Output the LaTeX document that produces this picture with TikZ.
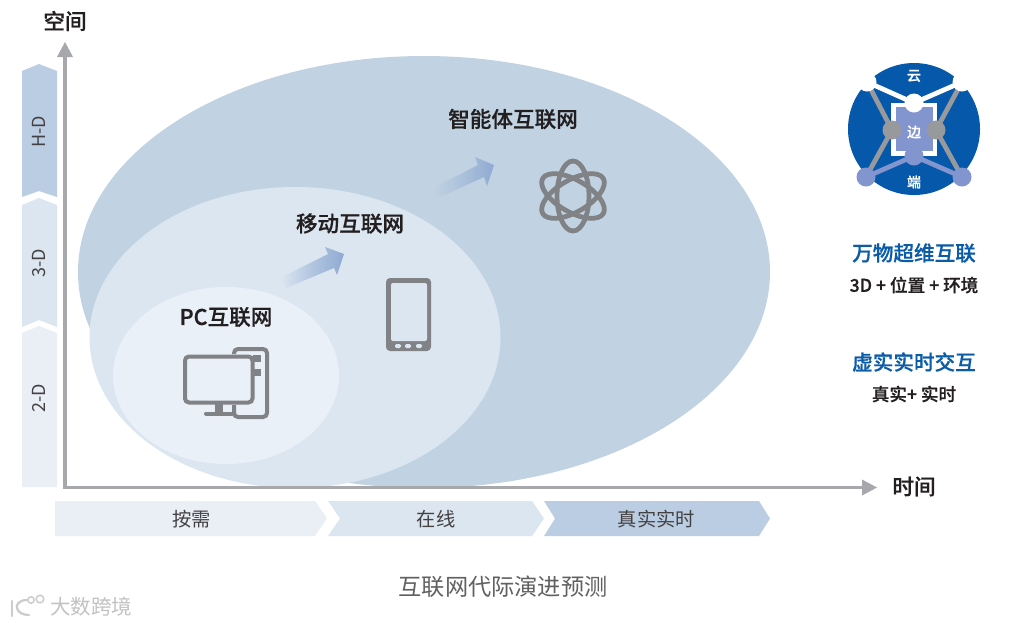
\documentclass[tikz,border=0pt]{standalone}
\usepackage{fontspec}
\setmainfont{Noto Sans CJK SC}
\newfontfamily\medf[FakeBold=0.6]{Noto Sans CJK SC Medium}
\definecolor{bigE}{HTML}{C1D3E2}
\definecolor{midE}{HTML}{DCE6F1}
\definecolor{smallE}{HTML}{E9F0F7}
\definecolor{hd}{HTML}{BBCDE2}
\definecolor{td}{HTML}{DCE6F1}
\definecolor{twod}{HTML}{E9EFF5}
\definecolor{axisc}{HTML}{A6A8AB}
\definecolor{icong}{HTML}{808285}
\definecolor{ink}{HTML}{231F20}
\definecolor{blueT}{HTML}{0A5BA8}
\definecolor{disc}{HTML}{0558AA}
\definecolor{peri}{HTML}{8295CE}
\definecolor{arrowB}{HTML}{8FAAD2}
\definecolor{discg}{HTML}{97999C}
\newcommand{\fpx}[1]{\pgfmathsetmacro{\fsz}{#1*0.75}\fontsize{\fsz pt}{\fsz pt}\selectfont}
\tikzset{
  x=0.75pt,y=-0.75pt,
  title/.style={font=\fpx{21.6}\medf,text=ink,inner sep=0pt},
  band/.style={font=\fpx{19.3},text=ink!85,inner sep=0pt},
  sidelabel/.style={font=\fpx{18},text=ink!85,inner sep=0pt,rotate=90},
  bluehead/.style={font=\fpx{20.6}\medf,text=blueT,inner sep=0pt},
  blackhead/.style={font=\fpx{17.6}\medf,text=ink,inner sep=0pt},
  disctext/.style={font=\fpx{14}\medf,text=white,inner sep=0pt},
  icon/.style={draw=icong,line width=3pt,rounded corners=3pt},
  axisline/.style={draw=axisc,line width=2.3pt},
  axistip/.style={fill=axisc,draw=none},
  bracket/.style={white,line width=3.5pt},
  wlink/.style={white,line width=3.6pt},
  glink/.style={discg,line width=3.6pt},
  plink/.style={peri,line width=3.6pt},
}
\begin{document}
\begin{tikzpicture}
\useasboundingbox (0,0) rectangle (1016,626);
\fill[white] (0,0) rectangle (1016,626);
% ellipses
\fill[bigE] (424,272) ellipse [x radius=346,y radius=216];
\fill[midE] (295,337.5) ellipse [x radius=205.5,y radius=150.5];
\fill[smallE] (226,375.5) ellipse [x radius=113,y radius=88.5];
% side bands
\fill[hd] (22,71) -- (39,64) -- (57,71) -- (57,197) -- (39,191) -- (22,197) -- cycle;
\fill[td] (22,205) -- (39,198) -- (57,205) -- (57,327) -- (39,320) -- (22,327) -- cycle;
\fill[twod] (22,333) -- (39,326) -- (57,333) -- (57,487) -- (22,487) -- cycle;
\node[sidelabel] (lh) at (39,132) {H-D};
\node[sidelabel] (l3) at (39,263) {3-D};
\node[sidelabel] (l2) at (39,398) {2-D};
% axes
\coordinate (o) at (65,487.5);
\coordinate (ytop) at (65,56);
\coordinate (xend) at (863,487.5);
\draw[axisline] (ytop) -- (o) -- (xend);
\fill[axistip] (65,42) -- (73,57) -- (57,57) -- cycle;
\fill[axistip] (877,487.5) -- (862,479.5) -- (862,495.5) -- cycle;
\node[title] (yl) at (65,21) {空间};
\node[title] (xl) at (914,486.5) {时间};
% time bands
\fill[twod] (55,501) -- (315,501) -- (327,518.5) -- (315,536) -- (55,536) -- cycle;
\fill[td] (328,501) -- (532,501) -- (544,518.5) -- (532,536) -- (328,536) -- (340,518.5) -- cycle;
\fill[hd] (544,501) -- (759,501) -- (770,518.5) -- (759,536) -- (544,536) -- (555,518.5) -- cycle;
\node[band] (b1) at (191.5,519.5) {按需};
\node[band] (b2) at (436,519.5) {在线};
\node[band] (b3) at (656.5,519.5) {真实实时};
% titles
\node[title] (t1) at (226,317) {PC互联网};
\node[title] (t2) at (350,223.5) {移动互联网};
\node[title] (t3) at (513,119) {智能体互联网};
% gradient arrows
\shade[left color=midE,right color=arrowB,middle color=midE!45!arrowB,shading angle=90]
  (280,278) -- (328,254) -- (325,247) -- (344,254) -- (337,275) -- (334,268) -- (286,288) -- cycle;
\shade[left color=bigE,right color=arrowB,middle color=bigE!55!arrowB,shading angle=90]
  (433,188) -- (478,165) -- (475,157) -- (494,165) -- (487,186) -- (484,177) -- (438,198) -- cycle;
% PC icon
\draw[icon] (185,356.5) rectangle (252.5,402.5);
\fill[icong] (215,403) rectangle (223,414);
\draw[icong,line width=3pt,line cap=round] (206,413.5) -- (232,413.5);
\draw[icon] (234,354) -- (234,349) -- (267,349) -- (267,417) -- (234,417) -- (234,405);
\fill[icong] (253,355) rectangle (261,361.5);
\fill[icong] (253,369) rectangle (261,376);
% phone icon
\fill[icong,rounded corners=3pt] (386,278) rectangle (431,351);
\fill[midE,rounded corners=1.5pt] (391,283) rectangle (427,341);
\foreach \dx in {398,408,419}{\fill[midE,rounded corners=1pt] (\dx-3,344) rectangle (\dx+3,348);}
% atom icon
\foreach \ang in {90,30,-30}{\draw[icong,line width=3.6pt,rotate around={\ang:(573,196)}] (573,196) ellipse [x radius=35,y radius=16];}
% disc icon
\fill[disc] (914,129) circle [radius=66];
\draw[bracket] (906,105) -- (893.5,105) -- (893.5,153.5) -- (906,153.5);
\draw[bracket] (922,105) -- (934.5,105) -- (934.5,153.5) -- (922,153.5);
\fill[peri] (896,107) rectangle (933,151);
\coordinate (w1) at (867,82);
\coordinate (w2) at (962,82);
\coordinate (w3) at (914,103);
\coordinate (g1) at (892,130);
\coordinate (g2) at (936,130);
\coordinate (p1) at (866,177);
\coordinate (p2) at (962,177);
\coordinate (p3) at (914,156);
\draw[wlink] (w1) -- (w3) -- (w2);
\draw[glink] (w1) -- (g1) -- (p1) (w2) -- (g2) -- (p2);
\draw[plink] (p1) -- (p3) -- (p2);
\foreach \c in {w1,w2,w3}{\fill[white] (\c) circle [radius=9.5];}
\foreach \c in {g1,g2}{\fill[discg] (\c) circle [radius=9.5];}
\foreach \c in {p1,p2,p3}{\fill[peri] (\c) circle [radius=9.5];}
\node[disctext] (c1) at (914,76) {云};
\node[disctext] (c2) at (914,132) {边};
\node[disctext] (c3) at (914,182) {端};
% right text
\node[bluehead] (r1) at (914,253) {万物超维互联};
\node[blackhead] (r2) at (914,285) {3D + 位置 + 环境};
\node[bluehead] (r3) at (914,362) {虚实实时交互};
\node[blackhead] (r4) at (914,394) {真实+ 实时};
% caption
\node[font=\fpx{23.2},text=black!62,inner sep=0pt] (cap) at (503,587) {互联网代际演进预测};
% watermark
\draw[black!20,line width=1.7pt,line cap=round] (12,601) -- (12,616);
\draw[black!20,line width=1.7pt,line cap=round] (27,600) .. controls (18,600) and (16,606) .. (17,608) .. controls (18,612) and (22,615) .. (29,615);
\draw[black!20,line width=1.1pt] (31,600) circle [radius=3.2] (40,599) circle [radius=3.8];
\node[font=\fpx{20.5},text=black!24,inner sep=0pt] (wm) at (91,607) {大数跨境};
\end{tikzpicture}
\end{document}
